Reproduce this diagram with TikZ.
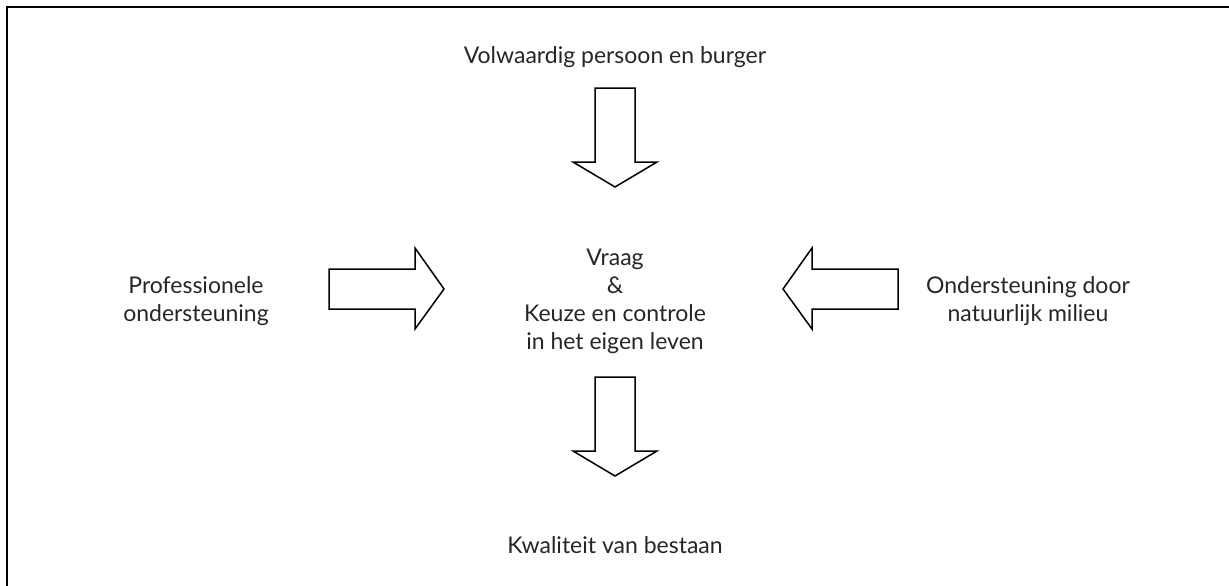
\documentclass[tikz,border=0pt]{standalone}
\usepackage{fontspec}
\setmainfont{Lato}
\begin{document}
\begin{tikzpicture}[x=1pt,y=-1pt,
  blockarrow/.style={draw=black,line width=1.5pt,fill=white,line join=miter},
  label/.style={inner sep=0pt,font=\fontsize{23}{28}\selectfont,text=black!85,align=center}]
\useasboundingbox (0,0) rectangle (1229,586);
\draw[line width=2.2pt] (7,590) -- (7,7) -- (1233,7);
% arrows
\draw[blockarrow] (595,88) -- (635,88) -- (635,162) -- (657,162) -- (615,187) -- (573,162) -- (595,162) -- cycle;
\draw[blockarrow] (595,377) -- (635,377) -- (635,451) -- (657,451) -- (615,476) -- (573,451) -- (595,451) -- cycle;
\draw[blockarrow] (329,269) -- (415,269) -- (415,248) -- (444,289) -- (415,329) -- (415,309) -- (329,309) -- cycle;
\draw[blockarrow] (898,269) -- (812,269) -- (812,248) -- (783,289) -- (812,329) -- (812,309) -- (898,309) -- cycle;
% texts
\node[label,anchor=base] (top) at (615,63.3) {Volwaardig persoon en burger};
\node[label] (center) at (615,301) {Vraag\\\&\\Keuze en controle\\in het eigen leven};
\node[label] (left) at (196,301) {Professionele\\ondersteuning};
\node[label] (right) at (1028,301) {Ondersteuning door\\natuurlijk milieu};
\node[label,anchor=base] (bottom) at (615,553) {Kwaliteit van bestaan};
\end{tikzpicture}
\end{document}
